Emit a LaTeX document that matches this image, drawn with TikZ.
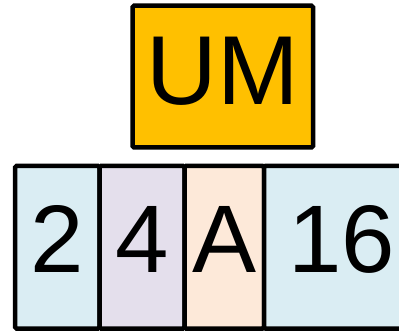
\documentclass[tikz,border=0pt]{standalone}
\usepackage{fontspec}
\setmainfont{Liberation Sans}
\usetikzlibrary{positioning}
\definecolor{umorange}{HTML}{FFC000}
\definecolor{cellblue}{HTML}{DAEDF3}
\definecolor{celllilac}{HTML}{E4DFEC}
\definecolor{cellpeach}{HTML}{FDE9D9}

\begin{document}
\begin{tikzpicture}[x=1pt, y=-1pt,
  box/.style={draw, line width=4.5pt, rounded corners=1.5pt, outer sep=0pt, inner sep=0pt,
    font=\fontsize{96}{100}\selectfont, text depth=16pt},
  unit/.style={box, fill=umorange, minimum width=180.5pt, minimum height=141.7pt,
    font=\fontsize{98}{100}\selectfont, text depth=12pt},
  cell/.style={box, minimum height=162.5pt}
]
\useasboundingbox (0,0) rectangle (399,331);
\clip (0,0) rectangle (399,331);
\node[unit] (um) at (222.75,76.6) {UM};
\node[cell, fill=cellblue, minimum width=84.5pt] (two) at (57.25,247.25) {2};
\node[cell, fill=celllilac, minimum width=85pt, right=0pt of two] (four) {4};
\node[cell, fill=cellpeach, minimum width=79.5pt, right=0pt of four] (a) {A};
\node[cell, fill=cellblue, minimum width=155pt, right=0pt of a] (sixteen) {16};
\end{tikzpicture}
\end{document}
